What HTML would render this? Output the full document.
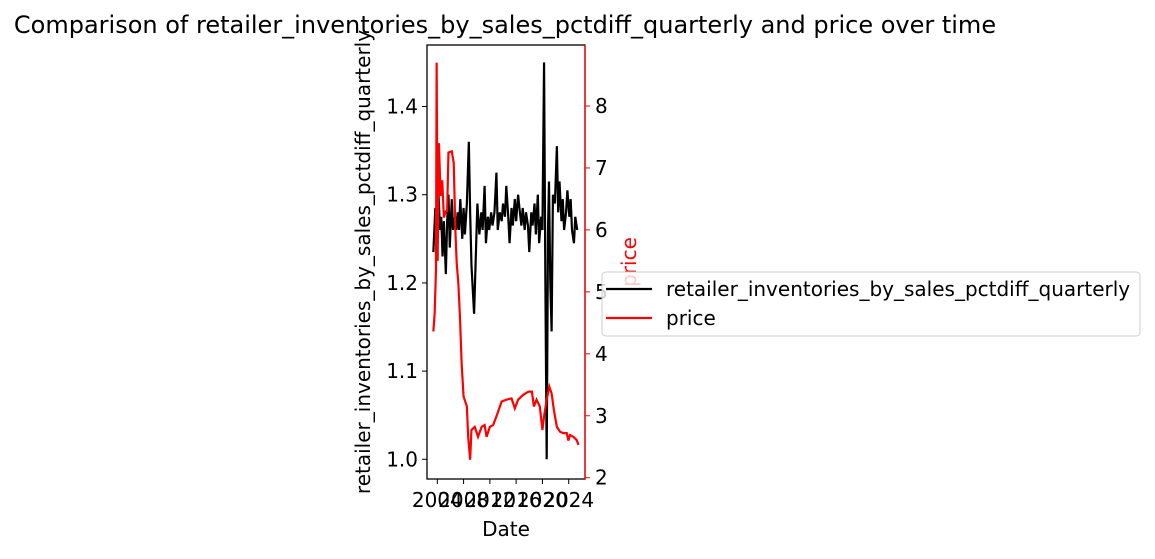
<!DOCTYPE html>
<html><head><meta charset="utf-8"><style>
body{margin:0;background:#fff}
svg text{font-family:"DejaVu Sans","Liberation Sans",sans-serif}
</style></head><body>
<svg id="chart" width="1155" height="554" xmlns="http://www.w3.org/2000/svg">
<text x="505" y="33" font-size="24" text-anchor="middle">Comparison of retailer_inventories_by_sales_pctdiff_quarterly and price over time</text>
<g id="plot"></g>
<text x="506" y="536" font-size="20" text-anchor="middle">Date</text>
<text transform="translate(370,262) rotate(-90)" font-size="20" text-anchor="middle">retailer_inventories_by_sales_pctdiff_quarterly</text>
<text transform="translate(636,262) rotate(-90)" font-size="20" fill="red" text-anchor="middle">price</text>
<g>
<rect x="602" y="272" width="538" height="64" rx="4" fill="#fff" fill-opacity="0.8" stroke="#ccc"/>
<line x1="606" y1="289" x2="652" y2="289" stroke="#000" stroke-width="2.2"/>
<text x="666" y="296" font-size="20">retailer_inventories_by_sales_pctdiff_quarterly</text>
<line x1="606" y1="318" x2="652" y2="318" stroke="red" stroke-width="2.2"/>
<text x="666" y="325" font-size="20">price</text>
</g>
</svg>
<script>
const invYears=[2003.4,2003.7,2003.9,2004.2,2004.4,2004.6,2004.8,2005.0,2005.3,2005.5,2005.7,2005.9,2006.2,2006.4,2006.7,2006.9,2007.1,2007.3,2007.5,2007.8,2008.0,2008.2,2008.5,2008.8,2009.0,2009.2,2009.6,2009.9,2010.1,2010.4,2010.7,2010.9,2011.2,2011.4,2011.7,2011.9,2012.2,2012.4,2012.7,2013.0,2013.2,2013.5,2013.8,2014.0,2014.3,2014.5,2014.8,2015.0,2015.3,2015.5,2015.8,2016.0,2016.3,2016.5,2016.8,2017.0,2017.3,2017.5,2017.8,2018.0,2018.3,2018.5,2018.8,2019.0,2019.3,2019.5,2019.8,2020.0,2020.25,2020.45,2020.65,2020.85,2021.0,2021.2,2021.4,2021.6,2021.9,2022.2,2022.4,2022.6,2022.9,2023.1,2023.3,2023.6,2023.8,2024.1,2024.3,2024.5,2024.8,2025.0,2025.3];
const invValues=[1.235,1.285,1.25,1.30,1.26,1.275,1.23,1.27,1.21,1.27,1.30,1.24,1.295,1.26,1.275,1.26,1.28,1.26,1.295,1.25,1.285,1.255,1.29,1.36,1.28,1.22,1.165,1.24,1.29,1.255,1.28,1.26,1.31,1.245,1.275,1.26,1.28,1.265,1.28,1.325,1.26,1.28,1.27,1.29,1.275,1.31,1.275,1.245,1.285,1.265,1.295,1.27,1.30,1.285,1.265,1.285,1.26,1.28,1.265,1.235,1.28,1.265,1.29,1.255,1.30,1.245,1.275,1.26,1.45,1.20,1.00,1.26,1.315,1.20,1.145,1.30,1.29,1.355,1.28,1.315,1.27,1.295,1.26,1.28,1.305,1.275,1.295,1.26,1.245,1.275,1.26];
const priceYears=[2003.4,2003.6,2003.8,2003.9,2004.05,2004.25,2004.5,2004.75,2005.0,2005.3,2005.5,2005.7,2006.2,2006.5,2006.75,2006.95,2007.2,2007.45,2007.7,2008.0,2008.5,2008.7,2009.0,2009.2,2009.7,2010.2,2010.75,2011.2,2011.5,2012.0,2012.5,2013.0,2013.8,2014.55,2015.3,2015.8,2016.3,2017.1,2017.9,2018.4,2018.7,2019.1,2019.6,2020.0,2020.25,2020.65,2021.05,2021.4,2021.75,2022.2,2022.7,2023.2,2023.7,2023.95,2024.2,2024.7,2025.2,2025.5];
const priceValues=[4.36,4.66,5.36,8.7,5.5,7.4,6.55,6.8,6.2,6.3,6.3,7.25,7.27,7.08,6.0,5.47,5.14,4.6,3.85,3.31,3.15,2.66,2.29,2.77,2.82,2.66,2.82,2.85,2.66,2.82,2.85,2.99,3.23,3.26,3.28,3.12,3.26,3.34,3.39,3.39,3.15,3.26,3.15,2.77,2.99,3.26,3.47,3.36,3.09,2.82,2.74,2.72,2.72,2.6,2.69,2.66,2.61,2.53];
const xTicks=[2004,2008,2012,2016,2020,2024];
const leftTicks=[1.0,1.1,1.2,1.3,1.4];
const rightTicks=[2,3,4,5,6,7,8];
const L=427,R=585,T=45,B=479;
const xS=y=>437.3+(y-2004)*6.57;
const yL=v=>459.3-(v-1.0)*882;
const yR=v=>477.7-(v-2)*61.95;
const NS='http://www.w3.org/2000/svg';
const g=document.getElementById('plot');
function mk(t,a){const e=document.createElementNS(NS,t);for(const k in a)e.setAttribute(k,a[k]);g.appendChild(e);return e;}
const inv=mk('polyline',{points:invYears.map((y,i)=>xS(y)+','+yL(invValues[i])).join(' '),fill:'none',stroke:'#000','stroke-width':2.2});


const pr=mk('polyline',{points:priceYears.map((y,i)=>xS(y)+','+yR(priceValues[i])).join(' '),fill:'none',stroke:'red','stroke-width':2.2});


const fr=mk('rect',{x:L,y:T,width:R-L,height:B-T,fill:'none',stroke:'#000','stroke-width':1.3});


mk('line',{x1:R,y1:T,x2:R,y2:B,stroke:'red','stroke-width':1.3});
xTicks.forEach(t=>{const x=xS(t);mk('line',{x1:x,y1:B,x2:x,y2:B+5,stroke:'#000'});
const tx=mk('text',{x:x,y:B+28,'font-size':20,'text-anchor':'middle'});tx.textContent=t;

});
leftTicks.forEach(t=>{const y=yL(t);mk('line',{x1:L-5,y1:y,x2:L,y2:y,stroke:'#000'});
const tx=mk('text',{x:L-9,y:y+7,'font-size':20,'text-anchor':'end'});tx.textContent=t.toFixed(1);

});
rightTicks.forEach(t=>{const y=yR(t);mk('line',{x1:R,y1:y,x2:R+5,y2:y,stroke:'red'});
const tx=mk('text',{x:R+10,y:y+7,'font-size':20});tx.textContent=t;

});
</script>
</body></html>
